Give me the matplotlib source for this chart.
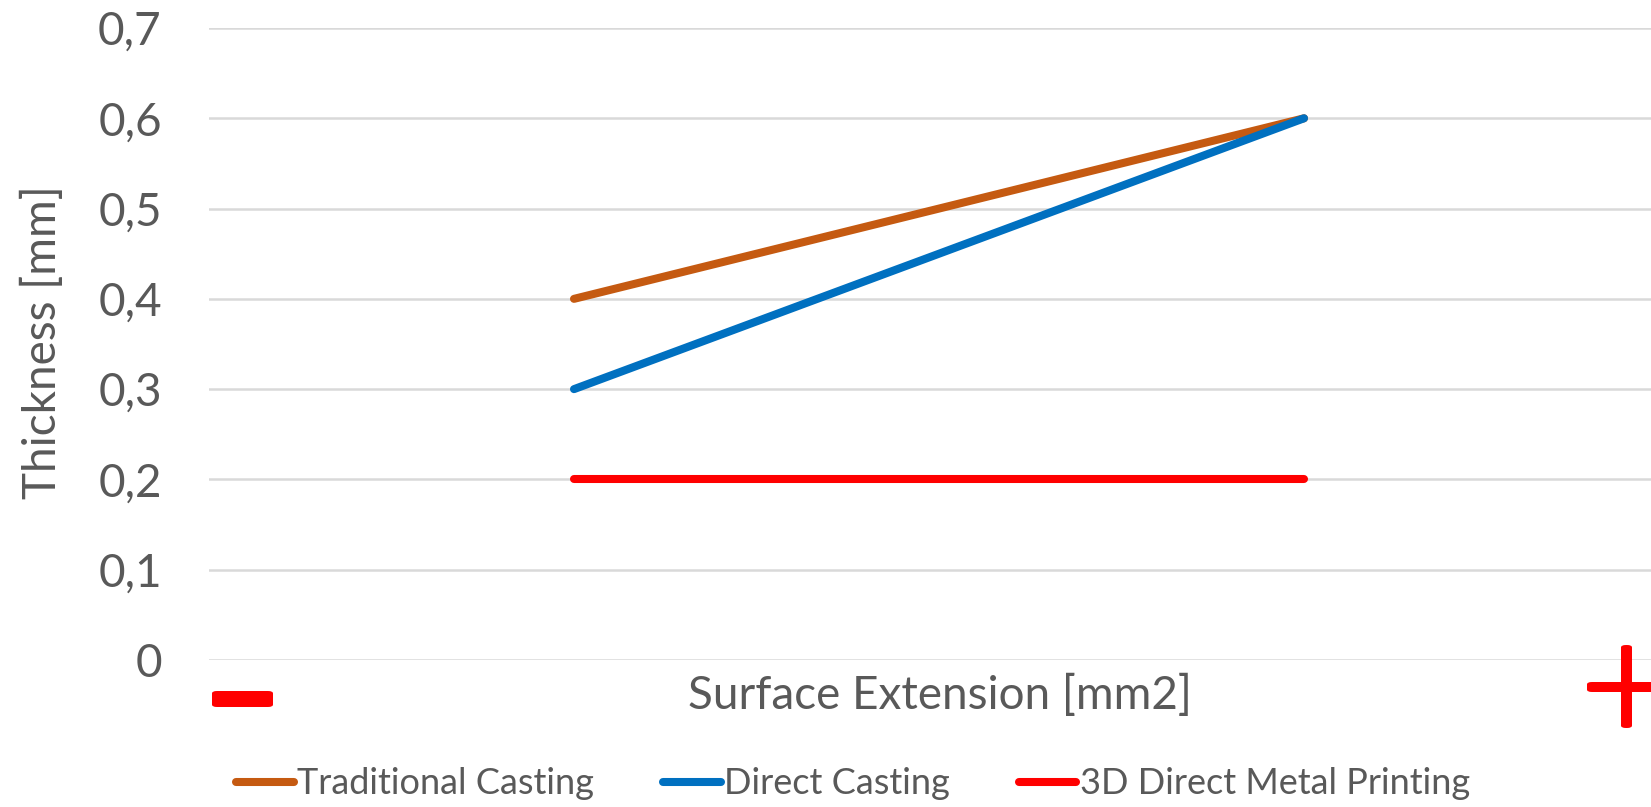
import matplotlib
matplotlib.use("Agg")
import matplotlib.pyplot as plt
from matplotlib.patches import FancyBboxPatch
from matplotlib.ticker import FixedLocator, FuncFormatter

categories = ["low", "high"]
traditional = [0.4, 0.6]
direct = [0.3, 0.6]
printing = [0.2, 0.2]
series_names = ["Traditional Casting", "Direct Casting", "3D Direct Metal Printing"]
y_ticks = [0, 0.1, 0.2, 0.3, 0.4, 0.5, 0.6, 0.7]

plt.rcParams['font.family'] = ['Lato', 'DejaVu Sans']
TXT = '#595959'

W, H = 1651, 807
fig = plt.figure(figsize=(W / 100, H / 100), dpi=100)
left, right = 209, 1669
top, bottom = 28, 660
ax = fig.add_axes([left / W, 1 - bottom / H, (right - left) / W, (bottom - top) / H])

x = list(range(len(categories)))
colors = ['#C55A11', '#0070C0', '#FF0000']
for vals, c, name in zip([traditional, direct, printing], colors, series_names):
    ax.plot(x, vals, color=c, lw=5.8, solid_capstyle='round', label=name, zorder=3)

ax.set_xlim(-0.5, 1.5)
ax.set_ylim(0, 0.7)
ax.yaxis.set_major_locator(FixedLocator(y_ticks))
ax.yaxis.set_major_formatter(FuncFormatter(lambda v, p: ('%g' % round(v, 1)).replace('.', ',')))
ax.set_xticks([])
ax.grid(axis='y', color='#D9D9D9', lw=1.8, zorder=0)
for s in ax.spines.values():
    s.set_visible(False)
ax.tick_params(axis='y', length=0, pad=34, labelsize=33, labelcolor=TXT)

fig.text(42 / W, 1 - 342 / H, "Thickness [mm]", rotation=90, ha='center', va='center',
         fontsize=33, color=TXT)
fig.text(940 / W, 1 - 695 / H, "Surface Extension [mm2]", ha='center', va='center',
         fontsize=33, color=TXT)

leg = fig.legend(loc='center', bbox_to_anchor=(853 / W, 1 - 784 / H), ncol=3, frameon=False,
                 fontsize=26, handlelength=1.6, handletextpad=0.1, columnspacing=1.9,
                 labelcolor=TXT)

# minus sign (bottom-left)
fig.patches.append(FancyBboxPatch((212 / W, 1 - 707 / H), 61 / W, 16 / H,
                                  boxstyle='round,pad=0,rounding_size=0.003',
                                  transform=fig.transFigure, color='#FF0000', lw=0))
# plus sign (bottom-right)
fig.patches.append(FancyBboxPatch((1621 / W, 1 - 728 / H), 11 / W, 83 / H,
                                  boxstyle='round,pad=0,rounding_size=0.003',
                                  transform=fig.transFigure, color='#FF0000', lw=0))
fig.patches.append(FancyBboxPatch((1587 / W, 1 - 692 / H), 80 / W, 10 / H,
                                  boxstyle='round,pad=0,rounding_size=0.003',
                                  transform=fig.transFigure, color='#FF0000', lw=0))

fig.savefig('out.png', dpi=100)
